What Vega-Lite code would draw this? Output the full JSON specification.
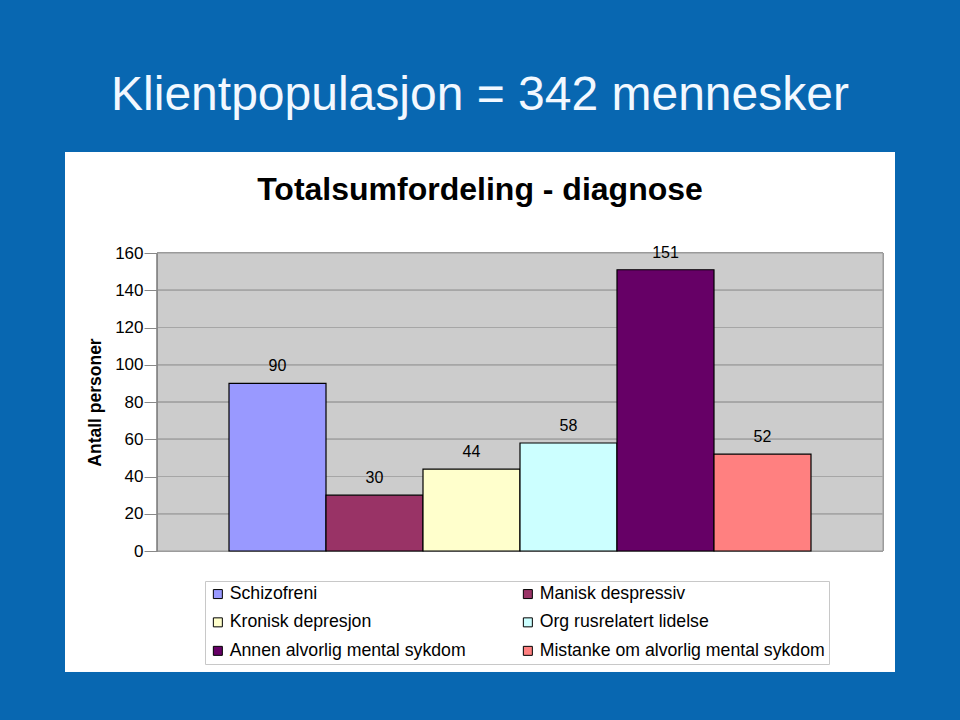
{
  "$schema": "https://vega.github.io/schema/vega-lite/v6.json",
  "width": 726,
  "height": 298,
  "autosize": {"type": "none"},
  "padding": {"left": 157, "top": 253, "right": 77, "bottom": 169},
  "background": "#0867b1",
  "config": {
    "view": {"stroke": null},
    "font": "Liberation Sans",
    "axisY": {
      "labelOverlap": false,
      "labelFont": "Liberation Sans",
      "labelFontSize": 17,
      "labelColor": "#000000",
      "labelPadding": 1,
      "tickColor": "#888888",
      "tickSize": 13,
      "domainColor": "#888888",
      "grid": false,
      "titleFont": "Liberation Sans",
      "titleFontSize": 17.5,
      "titleFontWeight": "bold",
      "titleColor": "#000000",
      "titlePadding": 10
    }
  },
  "title": {
    "text": "Klientpopulasjon = 342 mennesker",
    "subtitle": "Totalsumfordeling - diagnose",
    "anchor": "middle",
    "frame": "group",
    "dx": -40,
    "offset": -54,
    "font": "Liberation Sans",
    "fontSize": 48,
    "fontWeight": "normal",
    "color": "#f2f8ff",
    "subtitleFont": "Liberation Sans",
    "subtitleFontSize": 32,
    "subtitleFontWeight": "bold",
    "subtitleColor": "#000000",
    "subtitlePadding": 55,
    "zindex": 1
  },
  "data": {
    "values": [
      {"diagnose": "Schizofreni", "antall": 90},
      {"diagnose": "Manisk despressiv", "antall": 30},
      {"diagnose": "Kronisk depresjon", "antall": 44},
      {"diagnose": "Org rusrelatert lidelse", "antall": 58},
      {"diagnose": "Annen alvorlig mental sykdom", "antall": 151},
      {"diagnose": "Mistanke om alvorlig mental sykdom", "antall": 52}
    ]
  },
  "resolve": {"scale": {"x": "independent"}},
  "layer": [
    {
      "mark": {"type": "rect", "fill": "#ffffff"},
      "encoding": {
        "x": {"datum": -0.1267, "type": "quantitative", "scale": {"domain": [0, 1], "nice": false, "zero": false}, "axis": null},
        "x2": {"datum": 1.0165},
        "y": {"datum": 214.2, "type": "quantitative", "axis": {"values": [0, 20, 40, 60, 80, 100, 120, 140, 160], "labelOverlap": false, "title": "Antall personer", "zindex": 1}},
        "y2": {"datum": -64.7}
      }
    },
    {
      "layer": [
        {
          "mark": {"type": "rect", "fill": "#cccccc", "stroke": "#999999", "strokeWidth": 1},
          "encoding": {
            "y": {"datum": 160, "type": "quantitative", "axis": {"values": [0, 20, 40, 60, 80, 100, 120, 140, 160], "labelOverlap": false, "title": "Antall personer", "zindex": 1}},
            "y2": {"datum": 0}
          }
        },
        {"mark": {"type": "rule", "color": "#a6a6a6", "strokeWidth": 1}, "encoding": {"y": {"datum": 20, "type": "quantitative", "axis": {"values": [0, 20, 40, 60, 80, 100, 120, 140, 160], "labelOverlap": false, "title": "Antall personer", "zindex": 1}}}},
        {"mark": {"type": "rule", "color": "#a6a6a6", "strokeWidth": 1}, "encoding": {"y": {"datum": 40, "type": "quantitative", "axis": {"values": [0, 20, 40, 60, 80, 100, 120, 140, 160], "labelOverlap": false, "title": "Antall personer", "zindex": 1}}}},
        {"mark": {"type": "rule", "color": "#a6a6a6", "strokeWidth": 1}, "encoding": {"y": {"datum": 60, "type": "quantitative", "axis": {"values": [0, 20, 40, 60, 80, 100, 120, 140, 160], "labelOverlap": false, "title": "Antall personer", "zindex": 1}}}},
        {"mark": {"type": "rule", "color": "#a6a6a6", "strokeWidth": 1}, "encoding": {"y": {"datum": 80, "type": "quantitative", "axis": {"values": [0, 20, 40, 60, 80, 100, 120, 140, 160], "labelOverlap": false, "title": "Antall personer", "zindex": 1}}}},
        {"mark": {"type": "rule", "color": "#a6a6a6", "strokeWidth": 1}, "encoding": {"y": {"datum": 100, "type": "quantitative", "axis": {"values": [0, 20, 40, 60, 80, 100, 120, 140, 160], "labelOverlap": false, "title": "Antall personer", "zindex": 1}}}},
        {"mark": {"type": "rule", "color": "#a6a6a6", "strokeWidth": 1}, "encoding": {"y": {"datum": 120, "type": "quantitative", "axis": {"values": [0, 20, 40, 60, 80, 100, 120, 140, 160], "labelOverlap": false, "title": "Antall personer", "zindex": 1}}}},
        {"mark": {"type": "rule", "color": "#a6a6a6", "strokeWidth": 1}, "encoding": {"y": {"datum": 140, "type": "quantitative", "axis": {"values": [0, 20, 40, 60, 80, 100, 120, 140, 160], "labelOverlap": false, "title": "Antall personer", "zindex": 1}}}},
        {
          "mark": {"type": "bar", "stroke": "#000000", "strokeWidth": 1.2},
          "encoding": {
            "x": {
              "field": "diagnose",
              "type": "nominal",
              "sort": null,
              "scale": {
                "domain": ["Schizofreni", "Manisk despressiv", "Kronisk depresjon", "Org rusrelatert lidelse", "Annen alvorlig mental sykdom", "Mistanke om alvorlig mental sykdom"],
                "paddingInner": 0,
                "paddingOuter": 0.7423
              },
              "axis": null
            },
            "y": {
              "field": "antall",
              "type": "quantitative",
              "scale": {"domain": [0, 160], "nice": false},
              "axis": {"values": [0, 20, 40, 60, 80, 100, 120, 140, 160], "labelOverlap": false, "title": "Antall personer", "zindex": 1}
            },
            "color": {
              "field": "diagnose",
              "type": "nominal",
              "scale": {
                "domain": ["Schizofreni", "Manisk despressiv", "Kronisk depresjon", "Org rusrelatert lidelse", "Annen alvorlig mental sykdom", "Mistanke om alvorlig mental sykdom"],
                "range": ["#9999ff", "#993366", "#ffffcc", "#ccffff", "#660066", "#ff8080"]
              },
              "legend": {
                "orient": "none",
                "direction": "horizontal",
                "legendX": 48,
                "legendY": 328,
                "columns": 2,
                "title": null,
                "fillColor": "#ffffff",
                "strokeColor": "#c8c8c8",
                "padding": 4,
                "symbolType": "square",
                "symbolSize": 81,
                "symbolStrokeColor": "#000000",
                "symbolStrokeWidth": 1,
                "symbolOpacity": 1,
                "labelFont": "Liberation Sans",
                "labelFontSize": 17.7,
                "labelColor": "#000000",
                "labelLimit": 400,
                "labelOffset": 3,
                "columnPadding": 53,
                "rowPadding": 9.5,
                "zindex": 1
              }
            }
          }
        },
        {
          "mark": {"type": "text", "fontSize": 16, "baseline": "alphabetic", "dy": -12, "color": "#000000", "font": "Liberation Sans"},
          "encoding": {
            "x": {"field": "diagnose", "type": "nominal", "sort": null},
            "y": {"field": "antall", "type": "quantitative", "axis": {"values": [0, 20, 40, 60, 80, 100, 120, 140, 160], "labelOverlap": false, "title": "Antall personer", "zindex": 1}},
            "text": {"field": "antall", "type": "quantitative"}
          }
        }
      ]
    }
  ]
}
